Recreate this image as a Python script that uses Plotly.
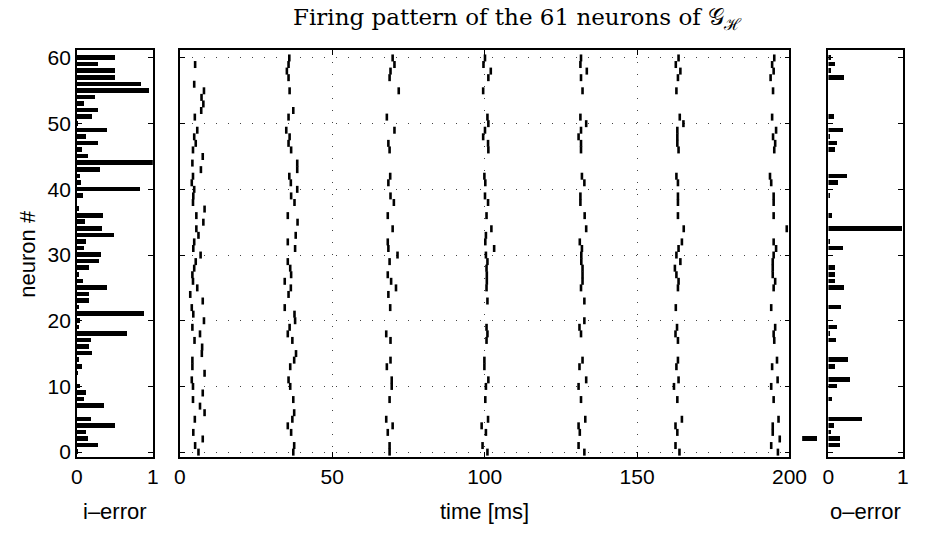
import plotly.graph_objects as go

# ---------------- data ----------------
neurons = list(range(61))

i_error = [0.01, 0.28, 0.14, 0.115, 0.50, 0.19, 0.0, 0.35, 0.09, 0.115,
           0.04, 0.0, 0.01, 0.06, 0.03, 0.20, 0.16, 0.19, 0.66, 0.03,
           0.04, 0.885, 0.015, 0.16, 0.155, 0.39, 0.085, 0.02, 0.16, 0.29,
           0.31, 0.09, 0.12, 0.49, 0.33, 0.11, 0.34, 0.02, 0.0, 0.085,
           0.83, 0.05, 0.04, 0.30, 1.0, 0.145, 0.07, 0.28, 0.115, 0.39,
           0.01, 0.20, 0.27, 0.09, 0.24, 0.95, 0.84, 0.50, 0.50, 0.28, 0.50]

o_error = [0.0, 0.166, 0.166, 0.044, 0.083, 0.454, 0.0, 0.0, 0.048, 0.0,
           0.127, 0.29, 0.0, 0.10, 0.275, 0.0, 0.0, 0.105, 0.017, 0.127,
           0.0, 0.0, 0.175, 0.0, 0.0, 0.21, 0.092, 0.092, 0.092, 0.0,
           0.0, 0.205, 0.017, 0.0, 1.0, 0.0, 0.057, 0.0, 0.0, 0.017,
           0.0, 0.14, 0.25, 0.0, 0.0, 0.0, 0.10, 0.127, 0.02, 0.205,
           0.0, 0.083, 0.0, 0.0, 0.0, 0.0, 0.0, 0.21, 0.04, 0.095, 0.04]

stray_neuron = [2]
stray_value = [1.0]

burst1_n = [59, 56, 55, 54, 53, 52, 51, 49, 48, 47, 46, 45, 44, 43, 42, 41, 40, 39, 38, 37,
            36, 35, 34, 33, 32, 31, 30, 29, 28, 27, 26, 25, 24, 23, 22, 21, 20, 19, 18, 17,
            16, 15, 14, 13, 12, 11, 10, 9, 8, 7, 6, 5, 3, 2, 1, 0]
burst1_t = [5.0, 4.7, 7.9, 7.1, 7.7, 7.0, 4.9, 5.7, 4.7, 5.2, 4.3, 7.5, 4.1, 6.9, 4.3, 3.9, 4.7, 4.4, 4.3, 8.1,
            5.4, 7.7, 5.4, 6.1, 4.7, 4.4, 6.8, 5.2, 4.7, 4.1, 4.3, 5.7, 3.4, 7.5, 3.9, 4.4, 7.9, 4.1, 6.6, 4.8,
            7.3, 7.2, 4.1, 4.1, 8.1, 3.9, 4.3, 7.5, 4.3, 6.6, 8.1, 4.9, 4.4, 7.5, 5.0, 6.1]

burst2_n = [60, 59, 58, 57, 55, 52, 51, 49, 48, 47, 46, 44, 43, 42, 41, 40, 39, 38, 36, 35,
            33, 32, 31, 29, 28, 27, 26, 25, 24, 22, 21, 20, 19, 18, 17, 15, 14, 13, 11, 10,
            8, 6, 5, 4, 3, 1, 0]
burst2_t = [35.9, 35.65, 35.1, 35.65, 36.0, 37.2, 35.65, 34.9, 36.0, 35.65, 36.5, 38.5, 38.5, 35.9, 36.4, 38.5, 36.5, 37.6, 35.4, 38.6,
            38.0, 35.4, 37.8, 35.4, 36.2, 36.5, 34.4, 36.4, 35.65, 34.4, 37.6, 37.8, 36.0, 35.4, 36.9, 38.1, 37.5, 36.2, 35.65, 36.2,
            37.2, 37.5, 36.9, 35.4, 36.5, 37.5, 37.2]

burst3_n = [60, 59, 58, 57, 55, 51, 49, 47, 46, 42, 41, 39, 38, 36, 34, 32, 31, 30, 29, 27,
            26, 25, 24, 22, 18, 17, 14, 13, 11, 10, 8, 5, 4, 3, 1, 0]
burst3_t = [69.8, 70.4, 69.1, 68.8, 71.8, 67.9, 70.4, 68.4, 68.8, 69.0, 68.4, 69.1, 70.2, 68.2, 69.8, 68.2, 68.4, 71.4, 68.8, 68.2,
            69.3, 70.9, 68.4, 69.0, 67.7, 69.1, 69.1, 67.9, 69.5, 69.5, 68.8, 67.7, 69.8, 68.2, 68.8, 68.8]

burst4_n = [60, 59, 58, 57, 55, 51, 50, 49, 48, 47, 46, 42, 41, 39, 38, 36, 34, 33, 32, 31,
            30, 29, 28, 27, 26, 25, 23, 19, 18, 17, 14, 13, 11, 10, 8, 5, 4, 3, 1, 0]
burst4_t = [100.1, 99.6, 102.0, 101.2, 99.5, 100.9, 101.2, 100.1, 99.5, 101.1, 101.2, 99.9, 100.2, 100.1, 101.1, 100.6, 102.2, 100.4, 100.2, 103.1,
            100.4, 100.9, 100.6, 100.7, 100.7, 100.6, 100.9, 100.6, 100.9, 100.6, 99.9, 99.9, 101.2, 100.4, 100.2, 101.1, 99.0, 100.4, 99.3, 100.9]

burst5_n = [60, 59, 58, 57, 55, 51, 50, 49, 48, 47, 46, 42, 41, 39, 38, 36, 34, 32, 31, 30,
            29, 28, 27, 26, 25, 23, 20, 19, 18, 14, 13, 11, 10, 8, 5, 4, 3, 1, 0]
burst5_t = [131.6, 131.4, 133.5, 131.6, 132.1, 131.4, 133.3, 131.6, 130.8, 131.6, 131.6, 131.9, 132.7, 131.4, 131.4, 132.8, 133.3, 131.2, 131.9, 131.7,
            131.7, 132.1, 132.1, 132.1, 131.6, 132.7, 132.7, 131.1, 131.6, 132.1, 131.1, 133.3, 130.8, 131.6, 133.0, 130.8, 131.2, 130.8, 132.7]

burst6_n = [60, 59, 58, 57, 55, 51, 50, 49, 48, 47, 46, 42, 41, 39, 38, 36, 34, 32, 31, 30,
            29, 28, 27, 26, 25, 22, 19, 18, 17, 14, 13, 11, 10, 8, 5, 4, 3, 1, 0]
burst6_t = [163.6, 162.7, 164.2, 163.4, 162.9, 164.0, 165.2, 163.2, 163.2, 163.2, 163.6, 162.9, 163.4, 163.4, 163.4, 163.4, 165.3, 164.7, 163.6, 162.9,
            164.2, 162.4, 162.9, 163.6, 163.4, 162.7, 163.1, 162.6, 163.4, 163.4, 162.9, 163.6, 162.1, 163.2, 164.7, 162.6, 163.2, 162.6, 163.9]

burst7_n = [60, 59, 58, 57, 55, 51, 49, 48, 47, 46, 42, 41, 39, 38, 36, 34, 32, 31, 30, 29,
            28, 27, 26, 25, 22, 19, 18, 17, 14, 13, 11, 10, 8, 5, 4, 3, 2, 1, 0]
burst7_t = [195.0, 194.3, 194.8, 193.8, 194.6, 194.3, 195.6, 194.6, 195.3, 195.0, 193.6, 194.0, 194.8, 194.8, 194.8, 199.1, 194.8, 195.6, 194.8, 194.5,
            194.5, 194.5, 195.3, 194.8, 194.0, 195.3, 194.8, 195.0, 195.9, 194.3, 196.1, 194.0, 194.8, 196.4, 194.5, 194.5, 196.8, 194.0, 196.2]

x_ticks_main = [0, 50, 100, 150, 200]
y_ticks = [0, 10, 20, 30, 40, 50, 60]
err_ticks = [0, 1]

title_text = "Firing pattern of the 61 neurons of 𝒢<sub>ℋ</sub>"

# ---------------- figure ----------------
W, H = 928, 533
FONT = "Liberation Sans, Arial, sans-serif"

fig = go.Figure()

fig.add_trace(go.Bar(x=i_error, y=neurons, orientation="h", width=0.7,
                     marker=dict(color="black", line=dict(width=0)),
                     xaxis="x", yaxis="y", showlegend=False))

spike_times = burst1_t + burst2_t + burst3_t + burst4_t + burst5_t + burst6_t + burst7_t
spike_neurons = burst1_n + burst2_n + burst3_n + burst4_n + burst5_n + burst6_n + burst7_n
fig.add_trace(go.Scatter(x=spike_times, y=spike_neurons, mode="markers",
                         marker=dict(symbol="line-ns", size=5,
                                     line=dict(width=2.6, color="black")),
                         xaxis="x2", yaxis="y2", showlegend=False, cliponaxis=False))

fig.add_trace(go.Bar(x=o_error, y=neurons, orientation="h", width=0.7,
                     marker=dict(color="black", line=dict(width=0)),
                     xaxis="x3", yaxis="y3", showlegend=False))

fig.add_trace(go.Bar(x=stray_value, y=stray_neuron, orientation="h", width=0.7,
                     marker=dict(color="black", line=dict(width=0)),
                     xaxis="x4", yaxis="y4", showlegend=False))

ydom = [1 - 461.7 / H, 1 - 47.3 / H]
yrange = [-0.75, 61.15]

common = dict(showline=True, linecolor="black", linewidth=1.5, mirror="allticks",
              ticks="inside", ticklen=5, tickcolor="black", tickwidth=1,
              tickfont=dict(family=FONT, size=21, color="black"), zeroline=False)

grid = dict(showgrid=True, gridcolor="#444444", gridwidth=1, griddash="1px,11px")

fig.update_layout(
    width=W, height=H, autosize=False,
    margin=dict(l=0, r=0, t=0, b=0, pad=0),
    paper_bgcolor="white", plot_bgcolor="white",
    bargap=0,
    xaxis=dict(domain=[72.7 / W, 150.7 / W], range=[0, 1], tickvals=err_ticks,
               anchor="y", showgrid=False, **common),
    yaxis=dict(domain=ydom, range=yrange, tickvals=y_ticks, anchor="x",
               showgrid=False, **common),
    xaxis2=dict(domain=[178.5 / W, 804.3 / W], range=[0, 200], tickvals=x_ticks_main,
                anchor="y2", **grid, **common),
    yaxis2=dict(domain=ydom, range=yrange, tickvals=y_ticks, anchor="x2",
                showticklabels=False, **grid, **common),
    xaxis3=dict(domain=[844.3 / W, 920.7 / W], range=[0, 1], tickvals=err_ticks,
                anchor="y3", showgrid=False, **common),
    yaxis3=dict(domain=ydom, range=yrange, tickvals=y_ticks, anchor="x3",
                showticklabels=False, showgrid=False, **common),
    xaxis4=dict(domain=[817.3 / W, 832.7 / W], range=[0, 1], anchor="y4", visible=False),
    yaxis4=dict(domain=ydom, range=yrange, anchor="x4", visible=False),
)

lab = dict(family=FONT, size=22, color="black")
fig.add_annotation(text="neuron #", x=22 / W, y=1 - 254 / H, xref="paper", yref="paper",
                   textangle=-90, showarrow=False, font=lab, xanchor="center", yanchor="middle")
fig.add_annotation(text="i–error", x=111.7 / W, y=1 - 517 / H, xref="paper", yref="paper",
                   showarrow=False, font=lab, xanchor="center", yanchor="middle")
fig.add_annotation(text="time [ms]", x=491.4 / W, y=1 - 517 / H, xref="paper", yref="paper",
                   showarrow=False, font=lab, xanchor="center", yanchor="middle")
fig.add_annotation(text="o–error", x=882.5 / W, y=1 - 517 / H, xref="paper", yref="paper",
                   showarrow=False, font=lab, xanchor="center", yanchor="middle")
fig.add_annotation(text=title_text, x=525 / W, y=1 - 15 / H, xref="paper", yref="paper",
                   showarrow=False, xanchor="center", yanchor="middle",
                   font=dict(family="DejaVu Serif, serif", size=23, color="black"))

fig.write_html("out.html", config={"responsive": False})
